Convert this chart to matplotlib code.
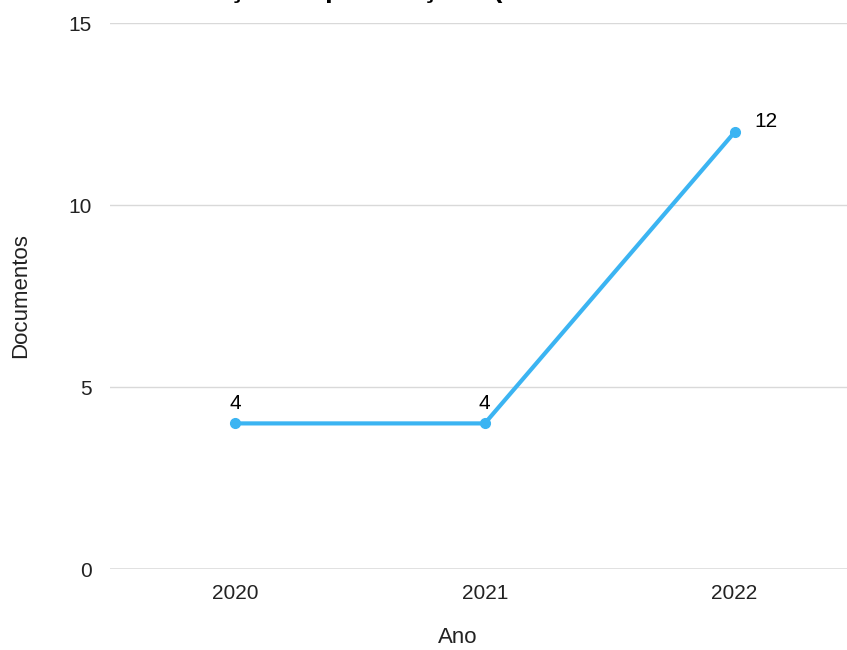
import matplotlib
matplotlib.use('Agg')
import matplotlib.pyplot as plt

anos = [2020, 2021, 2022]
documentos = [4, 4, 12]
rotulos_x = ['2020', '2021', '2022']
ticks_y = [0, 5, 10, 15]
titulo = 'Distribuição de publicações (Total de documentos selecionados: 20)'

plt.rcParams['font.family'] = ['Liberation Sans', 'DejaVu Sans']

fig = plt.figure(figsize=(8.47, 6.5), dpi=100)
ax = fig.add_axes([0.130, 0.1246, 0.870, 0.840])

cor = '#3bb4f2'
ax.plot(anos, documentos, color=cor, linewidth=3, marker='o', markersize=7,
        solid_capstyle='round', zorder=3)

# valores sobre os pontos
for a, d in zip(anos, documentos):
    if a == anos[-1]:
        ax.annotate(str(d), (a, d), xytext=(14, 8), textcoords='offset points',
                    ha='left', va='center', fontsize=15)
    else:
        ax.annotate(str(d), (a, d), xytext=(0, 14.5), textcoords='offset points',
                    ha='center', va='center', fontsize=15)

ax.set_xlim(2019.5, 2022.45)
ax.set_ylim(0, 15)
ax.set_xticks(anos)
ax.set_xticklabels(rotulos_x)
ax.set_yticks(ticks_y)
ax.tick_params(axis='both', length=0, labelsize=15, colors='#222222')
ax.tick_params(axis='x', pad=11)
ax.tick_params(axis='y', pad=13)

ax.grid(axis='y', color='#d9d9d9', linewidth=1)
ax.axhline(0, color='#888888', linewidth=1)
for s in ax.spines.values():
    s.set_visible(False)

ax.set_xlabel('Ano', fontsize=16, color='#222222', va='center')
ax.xaxis.set_label_coords(0.472, -0.126)
ax.set_ylabel('Documentos', fontsize=16, color='#222222', va='center')
ax.yaxis.set_label_coords(-0.122, 0.5)

# título (a parte de cima fica fora da figura)
fig.text(117 / 847, 1.0045, titulo, fontsize=20, fontweight='bold',
         va='baseline', ha='left')

fig.savefig('out.png', dpi=100)
